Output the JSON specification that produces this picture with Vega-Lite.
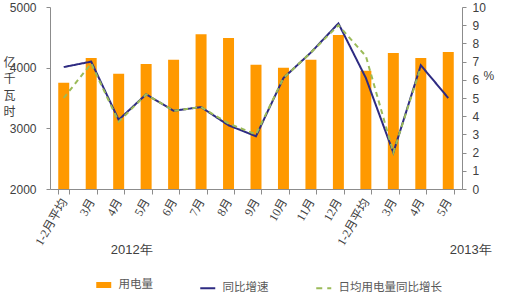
{
  "$schema": "https://vega.github.io/schema/vega-lite/v6.json",
  "width": 412,
  "height": 182,
  "autosize": "none",
  "padding": {"left": 50, "top": 7, "right": 43, "bottom": 113},
  "background": "white",
  "config": {
    "view": {"stroke": null},
    "font": "Liberation Sans",
    "axis": {
      "grid": false,
      "domainColor": "#8c8c8c",
      "tickColor": "#8c8c8c",
      "labelColor": "#404040",
      "titleColor": "#404040",
      "labelFontSize": 12,
      "labelFont": "Liberation Sans"
    }
  },
  "datasets": {
    "main": [
      {"key": "2012|1-2月平均", "用电量": 3750, "同比增速": 6.7, "日均用电量同比增长": 5.0},
      {"key": "2012|3月", "用电量": 4160, "同比增速": 7.0, "日均用电量同比增长": 6.9},
      {"key": "2012|4月", "用电量": 3900, "同比增速": 3.8, "日均用电量同比增长": 3.7},
      {"key": "2012|5月", "用电量": 4060, "同比增速": 5.2, "日均用电量同比增长": 5.2},
      {"key": "2012|6月", "用电量": 4130, "同比增速": 4.3, "日均用电量同比增长": 4.3},
      {"key": "2012|7月", "用电量": 4550, "同比增速": 4.5, "日均用电量同比增长": 4.5},
      {"key": "2012|8月", "用电量": 4490, "同比增速": 3.5, "日均用电量同比增长": 3.6},
      {"key": "2012|9月", "用电量": 4050, "同比增速": 2.9, "日均用电量同比增长": 3.0},
      {"key": "2012|10月", "用电量": 4000, "同比增速": 6.1, "日均用电量同比增长": 6.1},
      {"key": "2012|11月", "用电量": 4130, "同比增速": 7.5, "日均用电量同比增长": 7.5},
      {"key": "2012|12月", "用电量": 4540, "同比增速": 9.1, "日均用电量同比增长": 9.0},
      {"key": "2013|1-2月平均", "用电量": 3950, "同比增速": 6.1, "日均用电量同比增长": 7.3},
      {"key": "2013|3月", "用电量": 4240, "同比增速": 2.0, "日均用电量同比增长": 2.0},
      {"key": "2013|4月", "用电量": 4160, "同比增速": 6.8, "日均用电量同比增长": 6.7},
      {"key": "2013|5月", "用电量": 4260, "同比增速": 5.0, "日均用电量同比增长": null}
    ],
    "notes": [
      {"key": "2012|5月", "text": "2012年", "shift": -9},
      {"key": "2013|5月", "text": "2013年", "shift": 28}
    ]
  },
  "layer": [
    {
      "layer": [
        {
          "data": {"name": "main"},
          "mark": {"type": "bar"},
          "encoding": {
            "x": {
              "field": "key",
              "type": "nominal",
              "sort": null,
              "scale": {"paddingInner": 0.6, "paddingOuter": 0.3},
              "axis": {
                "title": null,
                "labelExpr": "split(datum.value, '|')[1]",
                "labelAngle": -60,
                "labelAlign": "right",
                "labelBaseline": "middle",
                "tickBand": "extent",
                "tickSize": 5,
                "labelPadding": 5,
                "labelFont": "Liberation Serif, Noto Sans CJK SC",
                "labelFontSize": 12
              }
            },
            "y": {
              "field": "用电量",
              "type": "quantitative",
              "scale": {"domain": [2000, 5000], "zero": false, "nice": false},
              "axis": {
                "orient": "left",
                "values": [2000, 3000, 4000, 5000],
                "format": "d",
                "tickSize": 4,
                "labelPadding": 10,
                "title": ["亿", "千", "瓦", "时"],
                "titleAngle": 0,
                "titleX": -41,
                "titleY": 50,
                "titleAlign": "center",
                "titleBaseline": "top",
                "titleLineHeight": 16.5,
                "titleFont": "Noto Sans CJK SC",
                "titleFontSize": 12,
                "titleFontWeight": "normal"
              }
            },
            "y2": {"datum": 2000},
            "color": {
              "datum": "用电量",
              "type": "nominal",
              "scale": {
                "domain": ["用电量", "同比增速", "日均用电量同比增长"],
                "range": ["#FF9900", "#2E2B82", "#9BBB59"]
              },
              "legend": {
                "title": null,
                "orient": "none",
                "legendX": 48,
                "legendY": 272,
                "direction": "horizontal",
                "symbolType": "M-1,0L1,0",
                "symbolSize": 225,
                "symbolStrokeWidth": 2,
                "labelFont": "Noto Sans CJK SC",
                "labelFontSize": 11.5,
                "labelColor": "#595959",
                "labelOffset": 9,
                "columnPadding": 43,
                "encode": {
                  "symbols": {
                    "update": {
                      "size": {"value": 225},
                      "shape": {"value": "M-1,0L1,0"},
                      "strokeCap": {"value": "butt"},
                      "fill": {"value": "transparent"},
                      "stroke": {"scale": "color", "field": "value"},
                      "strokeWidth": {"signal": "datum.value === '用电量' ? 6 : 2"},
                      "strokeDash": {"signal": "datum.value === '日均用电量同比增长' ? [6, 5] : [1, 0]"}
                    }
                  }
                }
              }
            }
          }
        },
        {
          "data": {"name": "notes"},
          "mark": {"type": "text", "fontSize": 13, "color": "#404040", "baseline": "middle", "align": "center"},
          "encoding": {
            "x": {"field": "key", "type": "nominal", "sort": null},
            "y": {"datum": 1000},
            "text": {"field": "text"},
            "xOffset": {"field": "shift", "type": "quantitative", "scale": null}
          }
        }
      ]
    },
    {
      "data": {"name": "main"},
      "transform": [{"fold": ["同比增速", "日均用电量同比增长"], "as": ["series", "rate"]}],
      "mark": {"type": "line", "strokeWidth": 2},
      "encoding": {
        "x": {"field": "key", "type": "nominal", "sort": null},
        "y": {
          "field": "rate",
          "type": "quantitative",
          "scale": {"domain": [0, 10], "nice": false},
          "axis": {
            "orient": "right",
            "values": [0, 1, 2, 3, 4, 5, 6, 7, 8, 9, 10],
            "tickSize": 4,
            "labelPadding": 6,
            "title": "%",
            "titleAngle": 0,
            "titleX": 21,
            "titleY": 68,
            "titleAlign": "left",
            "titleBaseline": "middle",
            "titleFontSize": 12,
            "titleFontWeight": "normal"
          }
        },
        "color": {"field": "series", "type": "nominal", "legend": null},
        "strokeDash": {
          "field": "series",
          "type": "nominal",
          "scale": {"domain": ["同比增速", "日均用电量同比增长"], "range": [[1, 0], [5, 4]]},
          "legend": null
        }
      }
    }
  ],
  "resolve": {"scale": {"y": "independent"}}
}
